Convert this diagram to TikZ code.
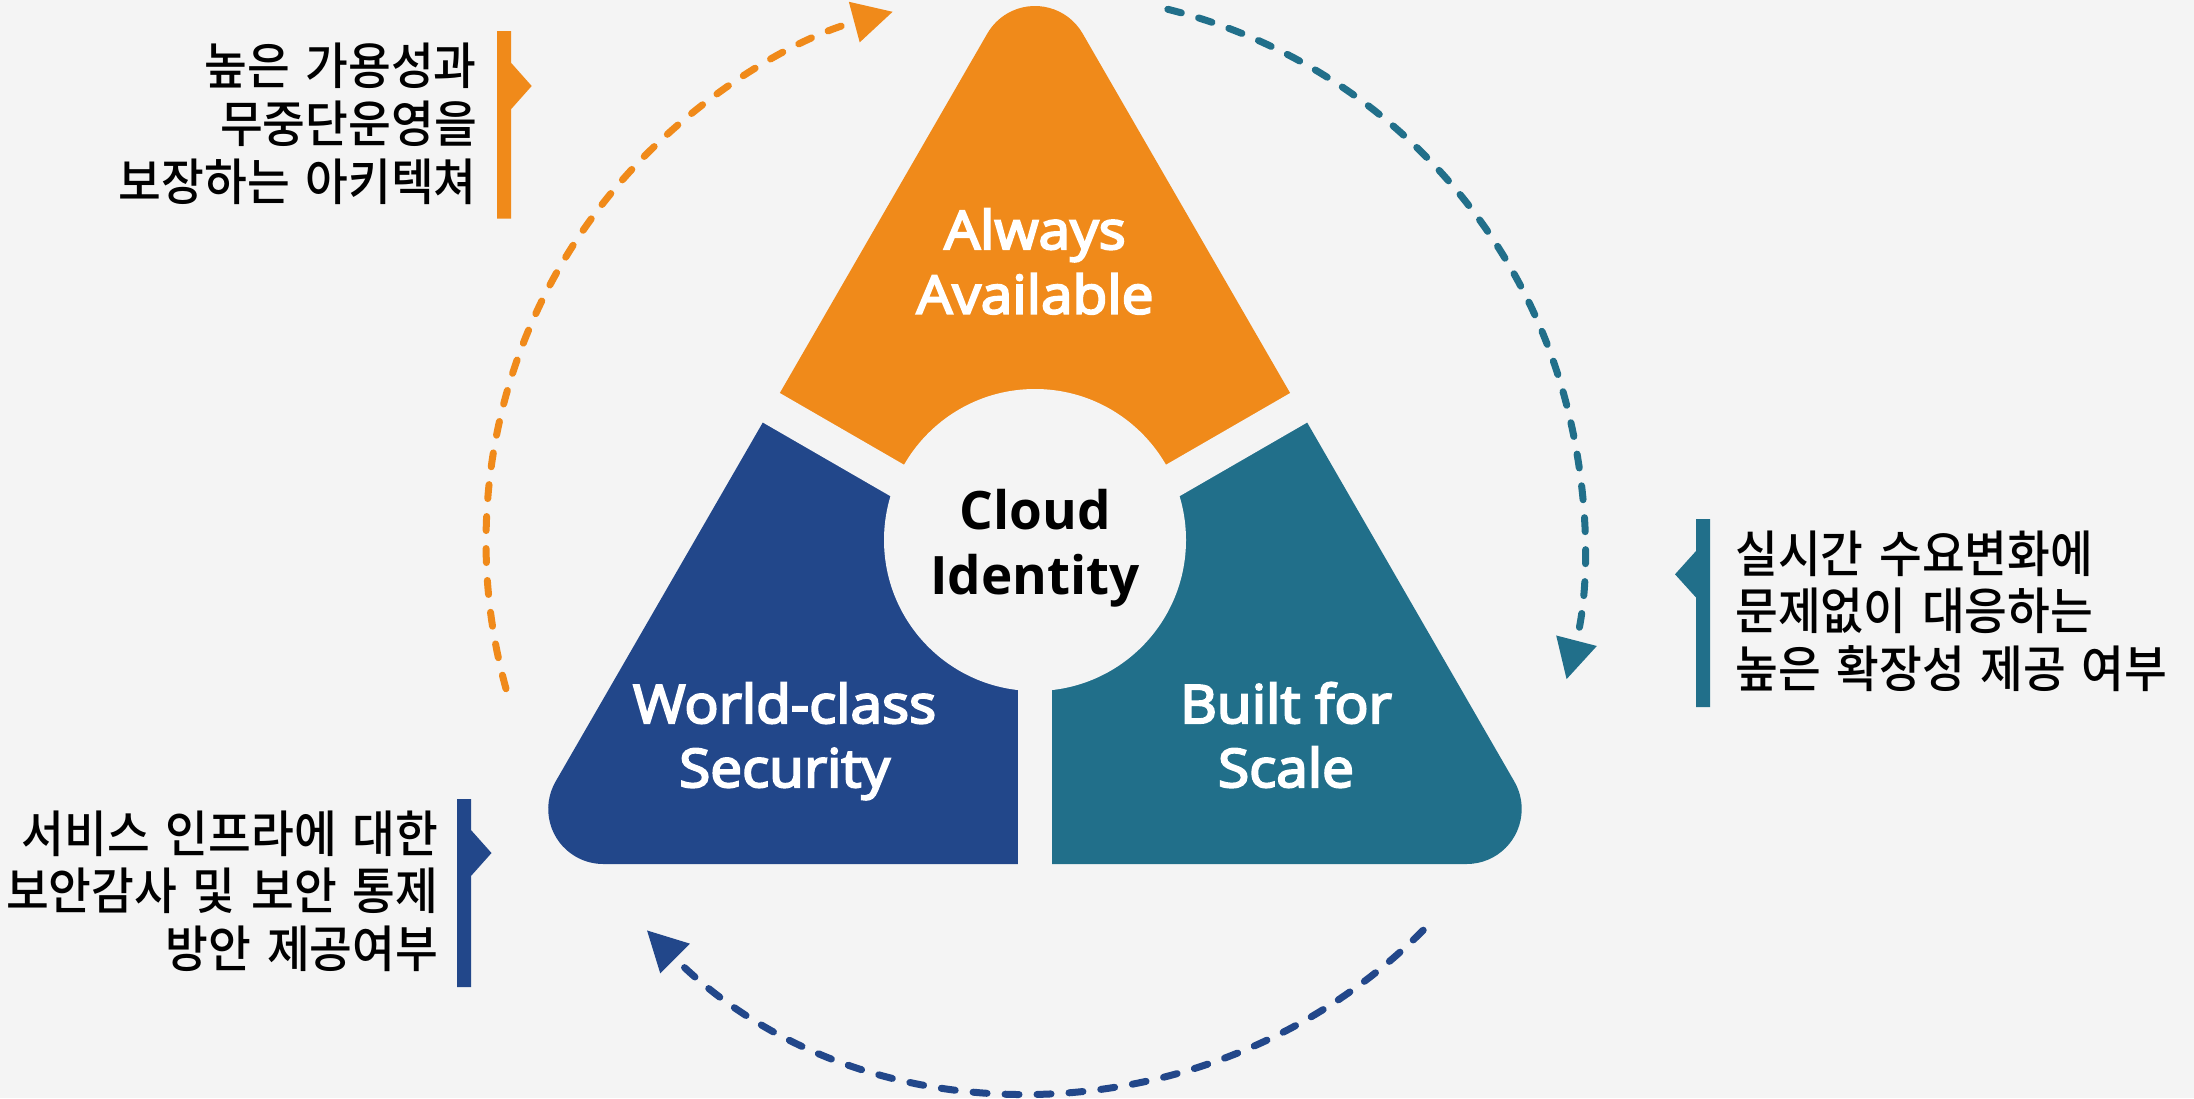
\documentclass[tikz,border=0pt]{standalone}
\usepackage{fontspec}
\usetikzlibrary{arrows.meta}
\IfFontExistsTF{Noto Sans CJK KR Medium}{\newfontfamily\kr{Noto Sans CJK KR Medium}[FakeStretch=0.93,WordSpace=1.5]}{\newfontfamily\kr{Noto Sans CJK KR}[FakeStretch=0.93,WordSpace=1.5,FakeBold=0.6]}
\IfFontExistsTF{Open Sans SemiBold}{\newfontfamily\labf{Open Sans SemiBold}[FakeBold=2,FakeStretch=1.07]}{\newfontfamily\labf{Open Sans}[FakeBold=4,FakeStretch=1.07]}
\IfFontExistsTF{Open Sans Bold}{\newfontfamily\cenf{Open Sans Bold}}{\newfontfamily\cenf{Open Sans}[FakeBold=3]}
\definecolor{bgc}{HTML}{F4F4F4}
\definecolor{cOr}{HTML}{F08A1A}
\definecolor{cBl}{HTML}{22478A}
\definecolor{cTe}{HTML}{216F8A}
\tikzset{
  krtext/.style={inner sep=0pt, font=\kr\fontsize{50}{58}\selectfont, text=black},
  lab/.style={inner sep=0pt, anchor=base, font=\labf\fontsize{53}{64}\selectfont, text=white},
  cen/.style={inner sep=0pt, anchor=base, font=\cenf\fontsize{53}{64}\selectfont, text=black},
  gap/.style={draw=bgc, line width=34pt},
  cyc/.style={line width=7pt, dash pattern=on 14pt off 18pt, line cap=round, -{Triangle[length=40pt,width=40pt]}},
}
\begin{document}
\begin{tikzpicture}[x=1pt,y=-1pt]
\fill[bgc] (0,0) rectangle (2194,1098);
\useasboundingbox (0,0) rectangle (2194,1098);
\coordinate (G) at (1035,560);
\coordinate (C) at (1035,542);
% orange piece
\begin{scope}
\clip (G) -- (428.8,210) -- (428.8,-300) -- (1641.2,-300) -- (1641.2,210) -- cycle;
\fill[cOr] (603.3,864) -- (1466.7,864) arc[start angle=90,end angle=-30,radius=55] -- (1082.6,33.5) arc[start angle=-30,end angle=-150,radius=55] -- (555.6,781.5) arc[start angle=210,end angle=90,radius=55] -- cycle;
\end{scope}
% blue piece
\begin{scope}
\clip (G) -- (428.8,210) -- (-200,210) -- (-200,1300) -- (1035,1300) -- cycle;
\fill[cBl] (603.3,864) -- (1466.7,864) arc[start angle=90,end angle=-30,radius=55] -- (1082.6,33.5) arc[start angle=-30,end angle=-150,radius=55] -- (555.6,781.5) arc[start angle=210,end angle=90,radius=55] -- cycle;
\end{scope}
% teal piece
\begin{scope}
\clip (G) -- (1641.2,210) -- (2400,210) -- (2400,1300) -- (1035,1300) -- cycle;
\fill[cTe] (603.3,864) -- (1466.7,864) arc[start angle=90,end angle=-30,radius=55] -- (1082.6,33.5) arc[start angle=-30,end angle=-150,radius=55] -- (555.6,781.5) arc[start angle=210,end angle=90,radius=55] -- cycle;
\end{scope}
% gaps and centre
\draw[gap] (G) -- ++(0,400);
\draw[gap] (G) -- ++(-606.2,-350);
\draw[gap] (G) -- ++(606.2,-350);
\fill[bgc] (1035,540) circle[radius=151];
% cycle arrows
\draw[cyc, cOr] ([shift={(164.5:549)}]C) arc[start angle=164.5, end angle=255, radius=549];
\draw[cyc, cTe] ([shift={(-76:549)}]C) arc[start angle=-76, end angle=14.5, radius=549];
\draw[cyc, cBl] ([shift={(45:549)}]C) arc[start angle=45, end angle=135, radius=549];
% pointer bars
\fill[cOr] (497,31) -- (511,31) -- (511,62.7) -- (531.7,86) -- (511,109.3) -- (511,218.6) -- (497,218.6) -- cycle;
\fill[cBl] (457,799) -- (471,799) -- (471,830) -- (491.5,853) -- (471,876) -- (471,987) -- (457,987) -- cycle;
\fill[cTe] (1696,519) -- (1710,519) -- (1710,707) -- (1696,707) -- (1696,597.5) -- (1675,574.3) -- (1696,551) -- cycle;
% labels in the pieces
\node[lab] (aa1) at (1035,249) {Always};
\node[lab] (aa2) at (1035,313.6) {Available};
\node[lab] (ws1) at (784.6,723) {World-class};
\node[lab] (ws2) at (784.6,787) {Security};
\node[lab] (bs1) at (1286,723) {Built for};
\node[lab] (bs2) at (1286,787) {Scale};
\node[cen] (ci1) at (1035,529) {Cloud};
\node[cen] (ci2) at (1035,594) {Identity};
% Korean texts
\node[krtext, anchor=base east] (o1) at (477,84.5) {높은 가용성과};
\node[krtext, anchor=base east] (o2) at (477,142) {무중단운영을};
\node[krtext, anchor=base east] (o3) at (477,200.5) {보장하는 아키텍쳐};
\node[krtext, anchor=base east] (b1) at (438.5,852) {서비스 인프라에 대한};
\node[krtext, anchor=base east] (b2) at (438.5,909) {보안감사 및 보안 통제};
\node[krtext, anchor=base east] (b3) at (438.5,967) {방안 제공여부};
\node[krtext, anchor=base west] (t1) at (1735,572) {실시간 수요변화에};
\node[krtext, anchor=base west] (t2) at (1735,629) {문제없이 대응하는};
\node[krtext, anchor=base west] (t3) at (1735,687) {높은 확장성 제공 여부};
\end{tikzpicture}
\end{document}
